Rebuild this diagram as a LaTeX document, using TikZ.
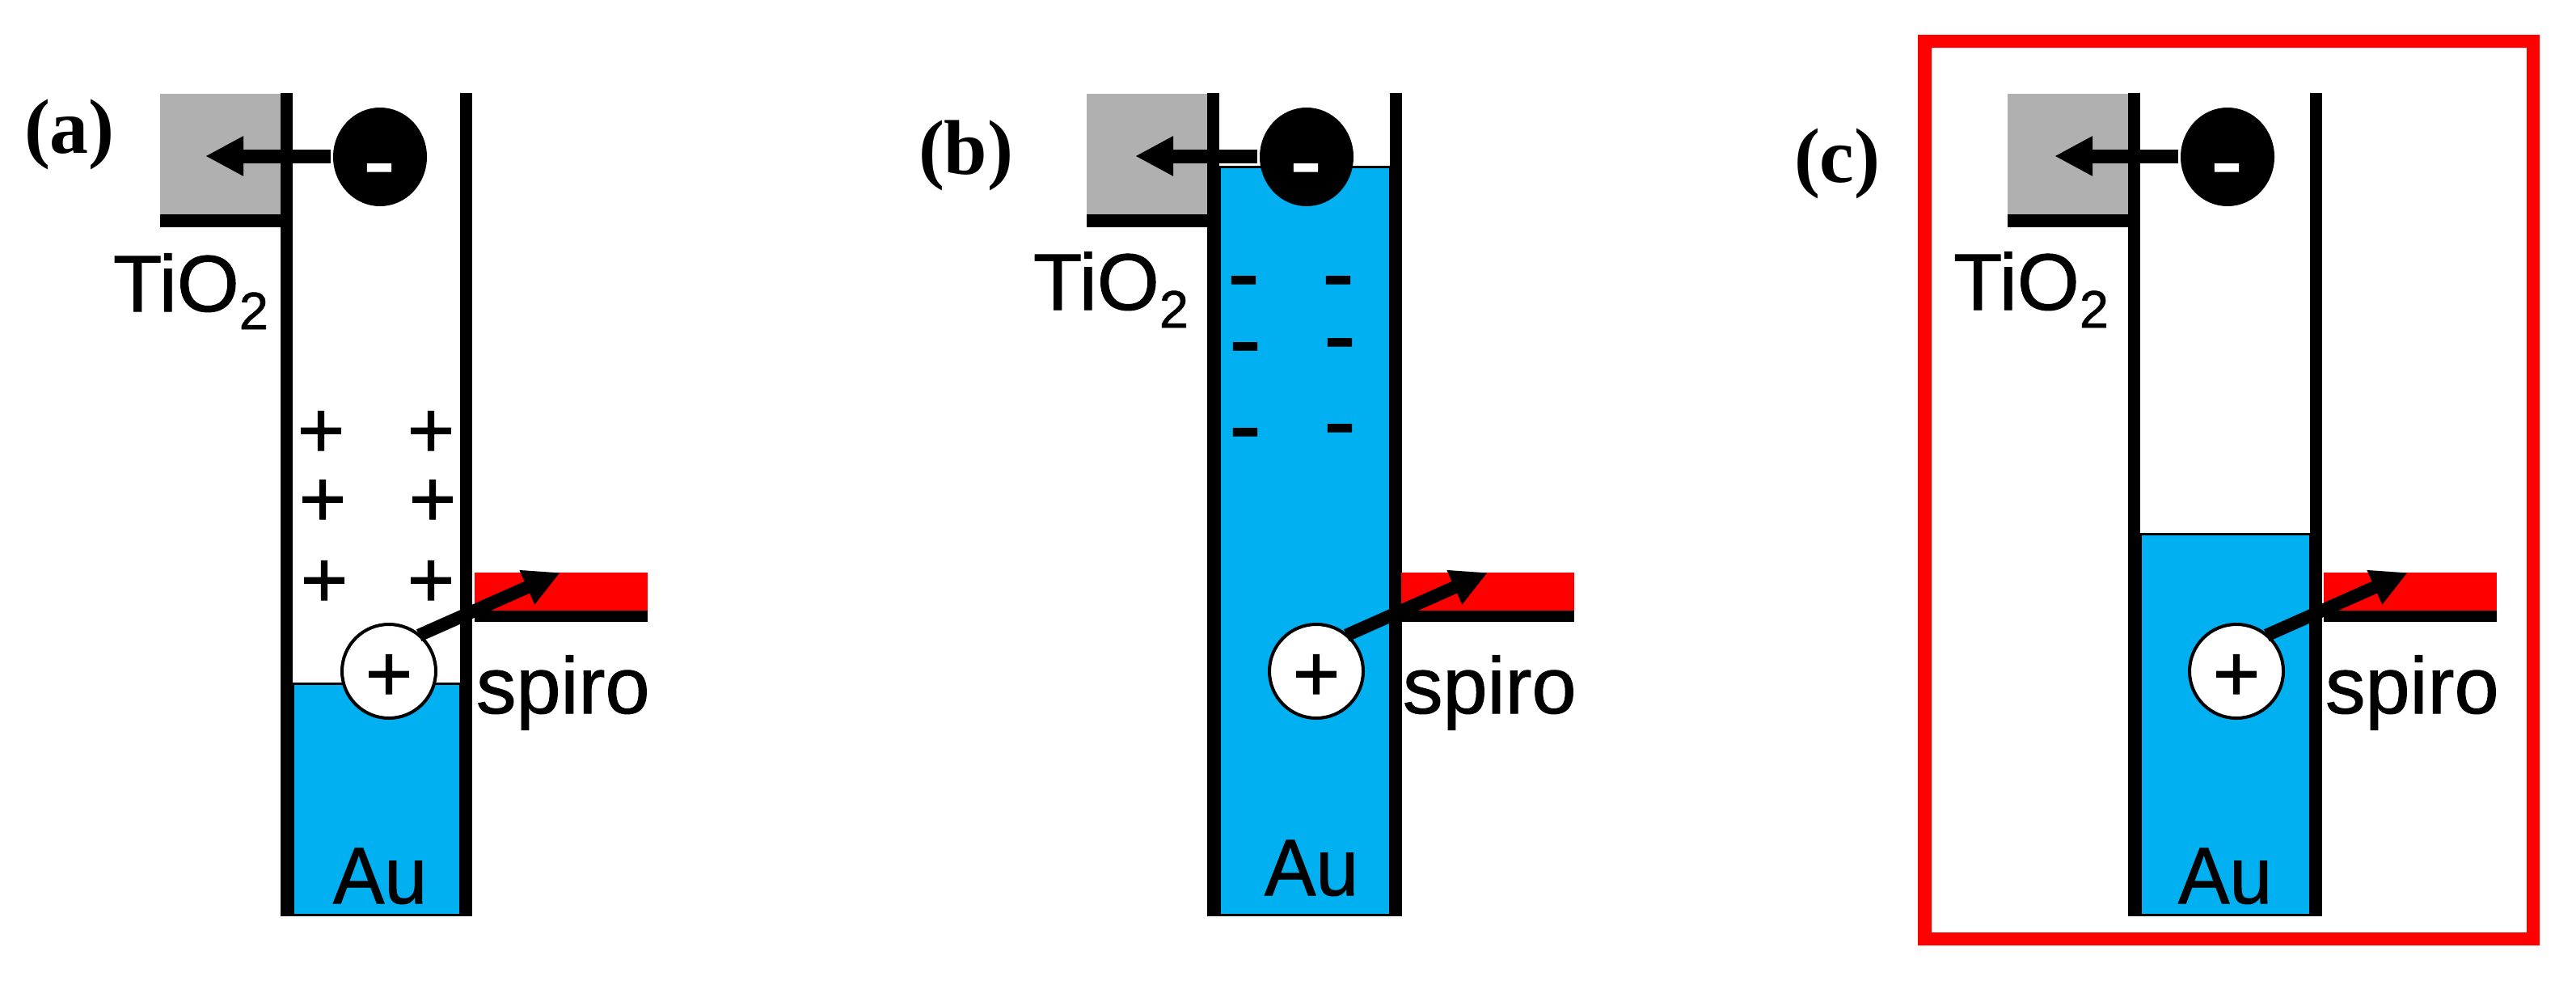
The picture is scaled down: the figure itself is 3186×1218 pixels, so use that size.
\documentclass[tikz,border=0pt]{standalone}
\usepackage{fontspec}
\setmainfont[FakeBold=1]{Liberation Sans}
\newfontfamily\lblfont{Liberation Serif}
\usetikzlibrary{arrows.meta,shapes.geometric}
\definecolor{graybox}{HTML}{B0B0B0}
\definecolor{liquid}{HTML}{00B0F0}
\definecolor{redbox}{HTML}{FF0000}
\newcommand{\fs}[1]{\fontsize{#1}{#1}\selectfont}
\tikzset{
  x=1pt,y=-1pt,
  txt/.style={inner sep=0pt,outer sep=0pt,anchor=base west},
  mainlabel/.style={txt,font=\fs{99}},
  goldlabel/.style={txt,font=\fs{99},xscale=.96},
  panellabel/.style={txt,font=\lblfont\bfseries\fs{96}},
  plussign/.style={inner sep=0pt,anchor=base,font=\fs{100}},
  minussign/.style={inner sep=0pt,anchor=base,font=\fs{119}},
  whiteminus/.style={minussign,text=white},
  wall/.style={line width=15.5pt},
  electron/.style={ellipse,fill=black,draw=none,minimum width=116pt,minimum height=122pt,inner sep=0pt,outer sep=0pt},
  hole/.style={circle,fill=white,draw=black,line width=4pt,minimum size=116pt,inner sep=0pt,outer sep=0pt},
  leftarrow/.style={line width=17pt,-{Triangle[length=47pt,width=46pt]}},
  rightarrow/.style={line width=16pt,-{Triangle[length=45pt,width=43pt]}},
}
\begin{document}
\begin{tikzpicture}
\useasboundingbox (0,0) rectangle (3186,1218);
\foreach \id/\wl/\wr/\lt/\ex/\px/\rl/\tx/\ax/\ay/\tox/\toy in {
  a/347/569/845/470/481/587/254/412/1117/140/385,
  b/1493/1719/206/1616/1628/1733/1404/1564/1107/1278/383,
  c/2632/2857/660/2755/2766/2874/2541/2694/1117/2416/383}{
  \fill[graybox] ({\wl-149},116) rectangle (\wl,265);
  \fill[black] ({\wl-149},265) rectangle (\wl,281);
  \filldraw[fill=liquid,draw=black,line width=3pt] ({\wl+15},\lt) rectangle (\wr,1131);
  \draw[wall] ({\wl+7.5},115) -- ({\wl+7.5},1133);
  \draw[wall] ({\wr+7.5},115) -- ({\wr+7.5},1133);
  \fill[redbox] (\rl,708) rectangle ({\rl+214},755);
  \fill[black] (\rl,755) rectangle ({\rl+214},769);
  \node[electron] (e\id) at (\ex,194) {};
  \node[whiteminus] (m\id) at ({\ex-1},239) {-};
  \coordinate (lt\id) at (\tx,193);
  \draw[leftarrow] ([xshift=-3pt]e\id.west |- lt\id) -- (lt\id);
  \node[hole] (h\id) at (\px,830) {};
  \node[plussign] (hp\id) at (\px,867) {+};
  \coordinate (rt\id) at ({\px+212},708);
  \draw[rightarrow] (h\id.50) -- (rt\id);
  \node[goldlabel] (au\id) at (\ax,\ay) {Au};
  \node[mainlabel] (sp\id) at ({\rl+2},882) {spiro};
  \node[mainlabel] (ti\id) at (\tox,\toy) {TiO\raisebox{-22pt}{\fs{65}2}};
}
% fixed charges in (a)
\foreach \n/\x/\y in {1/397/566,2/533/566,3/399/651,4/535/651,5/401/751,6/533/751}
  \node[plussign] (q\n) at (\x,\y) {+};
% fixed charges in (b)
\foreach \n/\x/\y in {1/1538/378,2/1655/378,3/1540/460,4/1657/455,5/1540/566,6/1657/561}
  \node[minussign] (d\n) at (\x,\y) {-};
% panel labels
\node[panellabel] (la) at (30,189) {(a)};
\node[panellabel] (lb) at (1136,215) {(b)};
\node[panellabel] (lc) at (2219,225) {(c)};
% red frame
\fill[redbox,even odd rule] (2372,43) rectangle (3141,1169) (2389,59) rectangle (3125,1153);
\end{tikzpicture}
\end{document}
